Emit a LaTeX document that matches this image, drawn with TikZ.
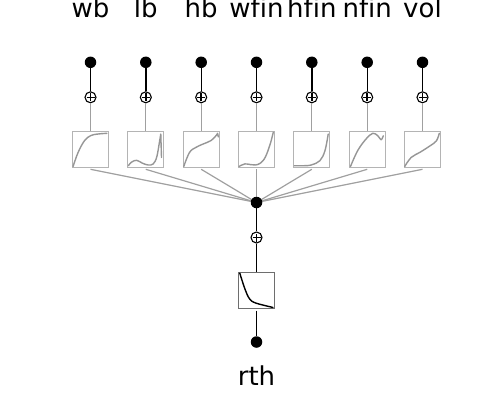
\documentclass[tikz,border=0pt]{standalone}
\usepackage{fontspec}
\setmainfont{DejaVu Sans}[Ligatures={NoCommon,NoRequired,NoContextual}]
\usetikzlibrary{calc}
\definecolor{edgegray}{RGB}{160,160,160}
\definecolor{boxgray}{RGB}{180,180,180}
\definecolor{curvegray}{RGB}{150,150,150}
\definecolor{outbox}{RGB}{110,110,110}
\begin{document}
\begin{tikzpicture}[x=1pt,y=-1pt,
  dot/.style={circle,fill=black,inner sep=0pt,minimum size=11.5pt},
  sumnode/.style={circle,draw=black,line width=1.1pt,inner sep=0pt,minimum size=11pt,fill=white,
    path picture={\draw[line width=1.5pt]
      ($(path picture bounding box.center)+(-4pt,0)$) -- ++(8pt,0)
      ($(path picture bounding box.center)+(0,-4pt)$) -- ++(0,8pt);}},
  actbox/.style={draw=boxgray,line width=1pt,minimum size=36pt,inner sep=0pt},
  outactbox/.style={draw=outbox,line width=1pt,minimum size=36pt,inner sep=0pt},
  blackedge/.style={draw=black,line width=1.4pt},
  grayedge/.style={draw=edgegray,line width=1.2pt},
  curve/.style={draw=curvegray,line width=1.4pt,line join=round,line cap=round},
  outcurve/.style={draw=black,line width=1.4pt,line join=round,line cap=round},
  inbox/.style={shift={(#1.south west)},x=36pt,y=36pt},
  lbl/.style={font=\fontsize{26}{30}\selectfont,anchor=base,inner sep=0pt}
]
\useasboundingbox (0,0) rectangle (500,400);
% labels
\node[lbl] (t1) at (90.5,17.5) {wb};
\node[lbl] (t2) at (145.8,17.5) {lb};
\node[lbl] (t3) at (201.2,17.5) {hb};
\node[lbl] (t4) at (256.5,17.5) {wfin};
\node[lbl] (t5) at (311.8,17.5) {hfin};
\node[lbl] (t6) at (367.2,17.5) {nfin};
\node[lbl] (t7) at (422.5,17.5) {vol};
% inputs, sums, boxes
\foreach \i/\x in {1/90.5,2/145.8,3/201.2,4/256.5,5/311.8,6/367.2,7/422.5}{
  \node[dot] (d\i) at (\x,62.3) {};
  \node[sumnode] (p\i) at (\x,97.3) {};
  \node[actbox] (b\i) at (\x,149) {};
  \coordinate (s\i) at (\x,169.3);
  \draw[blackedge] (d\i) -- (p\i);
  \draw[grayedge] (p\i) -- (b\i);
}
% hidden node
\foreach \i in {1,...,7}{ \draw[grayedge] (s\i) -- (256.5,202.5); }
\node[dot] (c) at (256.5,202.5) {};
% output
\node[sumnode] (q) at (256.5,237.5) {};
\node[outactbox] (r) at (256.5,290) {};
\coordinate (rs) at (256.5,310.5);
\node[dot] (o) at (256.5,342) {};
\node[lbl] (ot) at (256.5,385) {rth};
\draw[blackedge] (c) -- (q);
\draw[blackedge] (q) -- (r);
\draw[blackedge] (rs) -- (o);
% curves
\begin{scope}[inbox=b1]
  \draw[curve] plot[smooth,tension=0.6] coordinates {(0.03,0.03) (0.17,0.42) (0.35,0.75) (0.53,0.89) (0.72,0.93) (0.97,0.95)};
\end{scope}
\begin{scope}[inbox=b2]
  \draw[curve] plot[smooth,tension=0.6] coordinates {(0.03,0.05) (0.12,0.15) (0.26,0.2) (0.42,0.12) (0.58,0.07) (0.72,0.1) (0.82,0.3) (0.9,0.75) (0.93,0.93)} -- (0.95,0.28);
\end{scope}
\begin{scope}[inbox=b3]
  \draw[curve] plot[smooth,tension=0.6] coordinates {(0.03,0.03) (0.19,0.42) (0.37,0.56) (0.56,0.65) (0.79,0.75) (0.93,0.89) (0.97,0.95)} -- (0.99,0.85);
\end{scope}
\begin{scope}[inbox=b4]
  \draw[curve] plot[smooth,tension=0.6] coordinates {(0.03,0.03) (0.19,0.1) (0.35,0.08) (0.48,0.07) (0.62,0.12) (0.76,0.29) (0.9,0.67) (0.98,0.98)};
\end{scope}
\begin{scope}[inbox=b5]
  \draw[curve] plot[smooth,tension=0.6] coordinates {(0.03,0.05) (0.3,0.05) (0.5,0.07) (0.74,0.19) (0.88,0.47) (0.97,0.93)};
\end{scope}
\begin{scope}[inbox=b6]
  \draw[curve] plot[smooth,tension=0.6] coordinates {(0.05,0.03) (0.25,0.47) (0.48,0.79) (0.67,0.95) (0.81,0.88) (0.9,0.77) (0.96,0.88)};
\end{scope}
\begin{scope}[inbox=b7]
  \draw[curve] plot[smooth,tension=0.6] coordinates {(0.02,0.03) (0.2,0.28) (0.44,0.42) (0.72,0.6) (0.9,0.74) (0.98,0.95)};
\end{scope}
\begin{scope}[inbox=r]
  \draw[outcurve] plot[smooth,tension=0.6] coordinates {(0.05,0.98) (0.19,0.55) (0.32,0.27) (0.5,0.15) (0.97,0.03)};
\end{scope}
\end{tikzpicture}
\end{document}
